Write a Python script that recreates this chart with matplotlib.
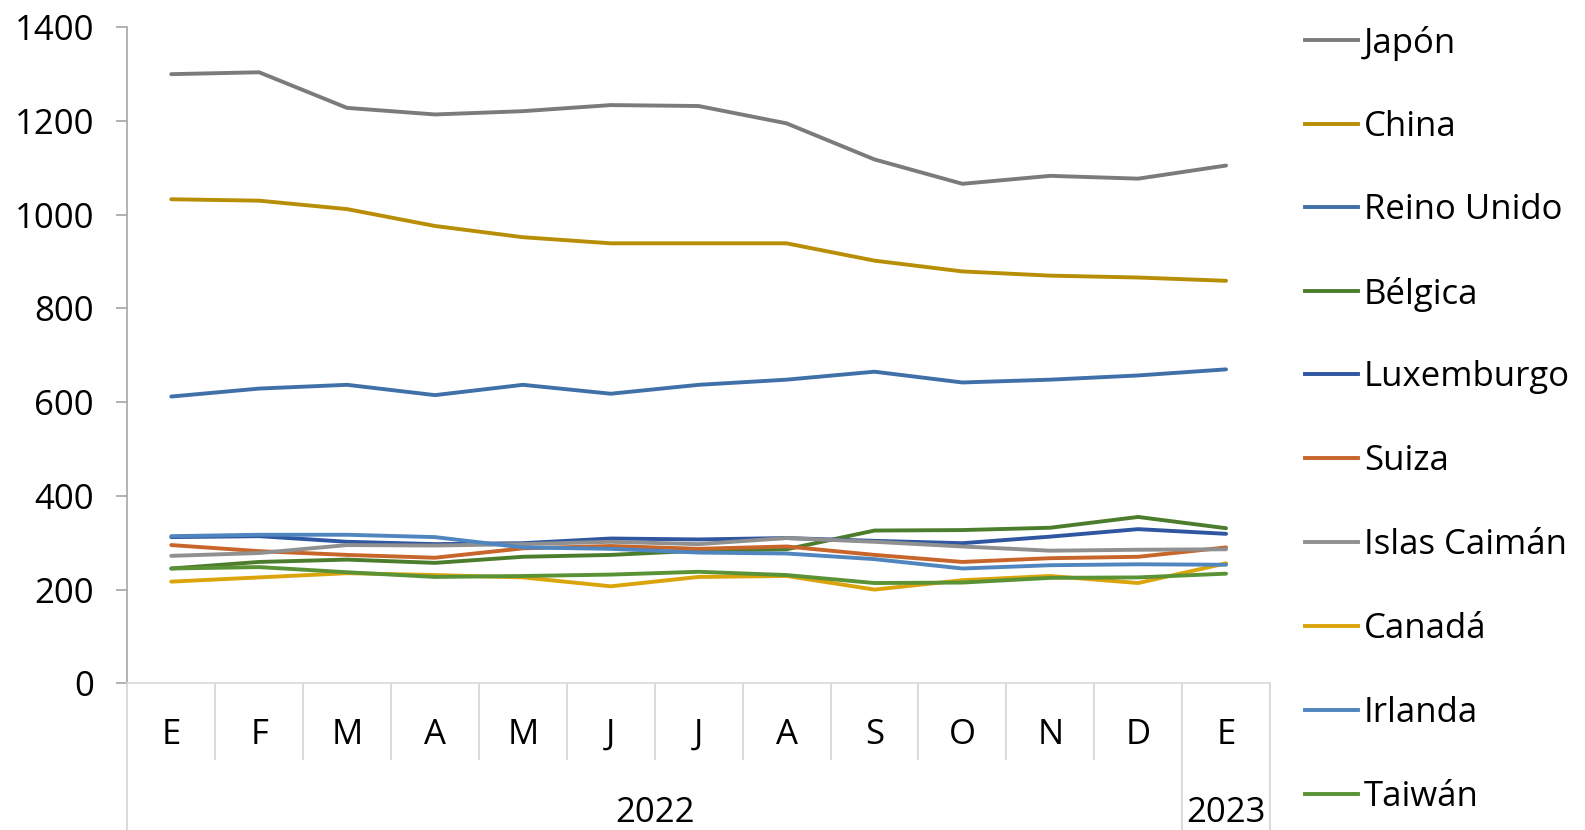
import matplotlib
matplotlib.use("Agg")
import matplotlib.pyplot as plt
from matplotlib.lines import Line2D
import matplotlib.transforms as mtransforms

months = ["E", "F", "M", "A", "M", "J", "J", "A", "S", "O", "N", "D", "E"]
years = ["2022", "2023"]
year_spans = [(0, 11), (12, 12)]

series_names = ["Japón", "China", "Reino Unido", "Bélgica", "Luxemburgo", "Suiza",
                "Islas Caimán", "Canadá", "Irlanda", "Taiwán"]
japon = [1300, 1304, 1228, 1214, 1221, 1234, 1232, 1195, 1118, 1066, 1083, 1077, 1105]
china = [1033, 1030, 1012, 976, 952, 939, 939, 939, 902, 879, 870, 866, 859]
reino_unido = [612, 629, 637, 615, 637, 618, 637, 648, 665, 642, 648, 657, 670]
belgica = [245, 259, 264, 257, 270, 274, 283, 286, 326, 327, 332, 355, 331]
luxemburgo = [312, 314, 302, 297, 299, 309, 307, 310, 304, 299, 313, 329, 319]
suiza = [295, 282, 274, 268, 288, 293, 287, 292, 274, 259, 267, 270, 290]
islas_caiman = [272, 278, 295, 294, 297, 302, 297, 310, 302, 292, 283, 285, 286]
canada = [217, 226, 235, 231, 226, 207, 227, 229, 200, 220, 229, 214, 256]
irlanda = [314, 317, 317, 312, 290, 287, 279, 277, 265, 245, 252, 254, 253]
taiwan = [245, 248, 237, 227, 229, 232, 238, 231, 214, 215, 225, 226, 234]

series = [japon, china, reino_unido, belgica, luxemburgo, suiza,
          islas_caiman, canada, irlanda, taiwan]
colors = ["#7B7B7B", "#B88E06", "#3F71A8", "#4C7D2C", "#2F56A0", "#C7652B",
          "#909090", "#DBA40A", "#4F86BF", "#5A9236"]

plt.rcParams['font.family'] = ['Open Sans', 'DejaVu Sans']
FS = 25

W, H = 1585, 830
fig = plt.figure(figsize=(W / 100, H / 100), dpi=100)
ax_left, ax_right, ax_top, ax_bot = 127.3, 1270, 27.3, 683.3
ax = fig.add_axes([ax_left / W, 1 - ax_bot / H, (ax_right - ax_left) / W, (ax_bot - ax_top) / H])

x = list(range(len(months)))
for name, vals, c in zip(series_names, series, colors):
    ax.plot(x, vals, color=c, lw=2.8, solid_capstyle='round', solid_joinstyle='round')

ax.set_xlim(-0.5, len(months) - 0.5)
ax.set_ylim(0, 1400)
ax.set_yticks(range(0, 1401, 200))
ax.tick_params(axis='y', labelsize=FS, length=8, width=1.2, color='#A6A6A6', pad=16, direction='out')
ax.set_xticks([])
for s in ['top', 'right']:
    ax.spines[s].set_visible(False)
ax.spines['left'].set_color('#A6A6A6')
ax.spines['left'].set_linewidth(1.2)
ax.spines['bottom'].set_color('#D9D9D9')
ax.spines['bottom'].set_linewidth(1.2)

ah = ax_bot - ax_top
trans = mtransforms.blended_transform_factory(ax.transData, ax.transAxes)
y_month = (ax_bot - 735) / ah
y_year = (ax_bot - 813) / ah
y_sep = (ax_bot - 759) / ah
y_bottom = (ax_bot - H) / ah

for i, m in enumerate(months):
    ax.text(i, y_month, m, transform=trans, ha='center', va='center', fontsize=FS, color='#000000')

# separators
long_bounds = set()
for s0, s1 in year_spans:
    long_bounds.add(s0 - 0.5)
    long_bounds.add(s1 + 0.5)
for b in [i - 0.5 for i in range(len(months) + 1)]:
    y0 = y_bottom if b in long_bounds else y_sep
    ax.add_line(Line2D([b, b], [0, y0], transform=trans, color='#D9D9D9', lw=1.4, clip_on=False))

for yr, (s0, s1) in zip(years, year_spans):
    ax.text((s0 + s1) / 2, y_year, yr, transform=trans, ha='center', va='center', fontsize=FS, color='#000000')

# legend
leg_y = [40.4, 124.3, 207.2, 291, 374, 457.9, 541.8, 625.7, 709.6, 793.5]
for name, c, ly in zip(series_names, colors, leg_y):
    yf = 1 - ly / H
    fig.add_artist(Line2D([1305 / W, 1358 / W], [yf, yf], color=c, lw=2.8))
    fig.text(1364 / W, 1 - (ly + 3) / H, name, fontsize=FS, va='center', ha='left', color='#000000')

fig.savefig("out.png", dpi=100)
